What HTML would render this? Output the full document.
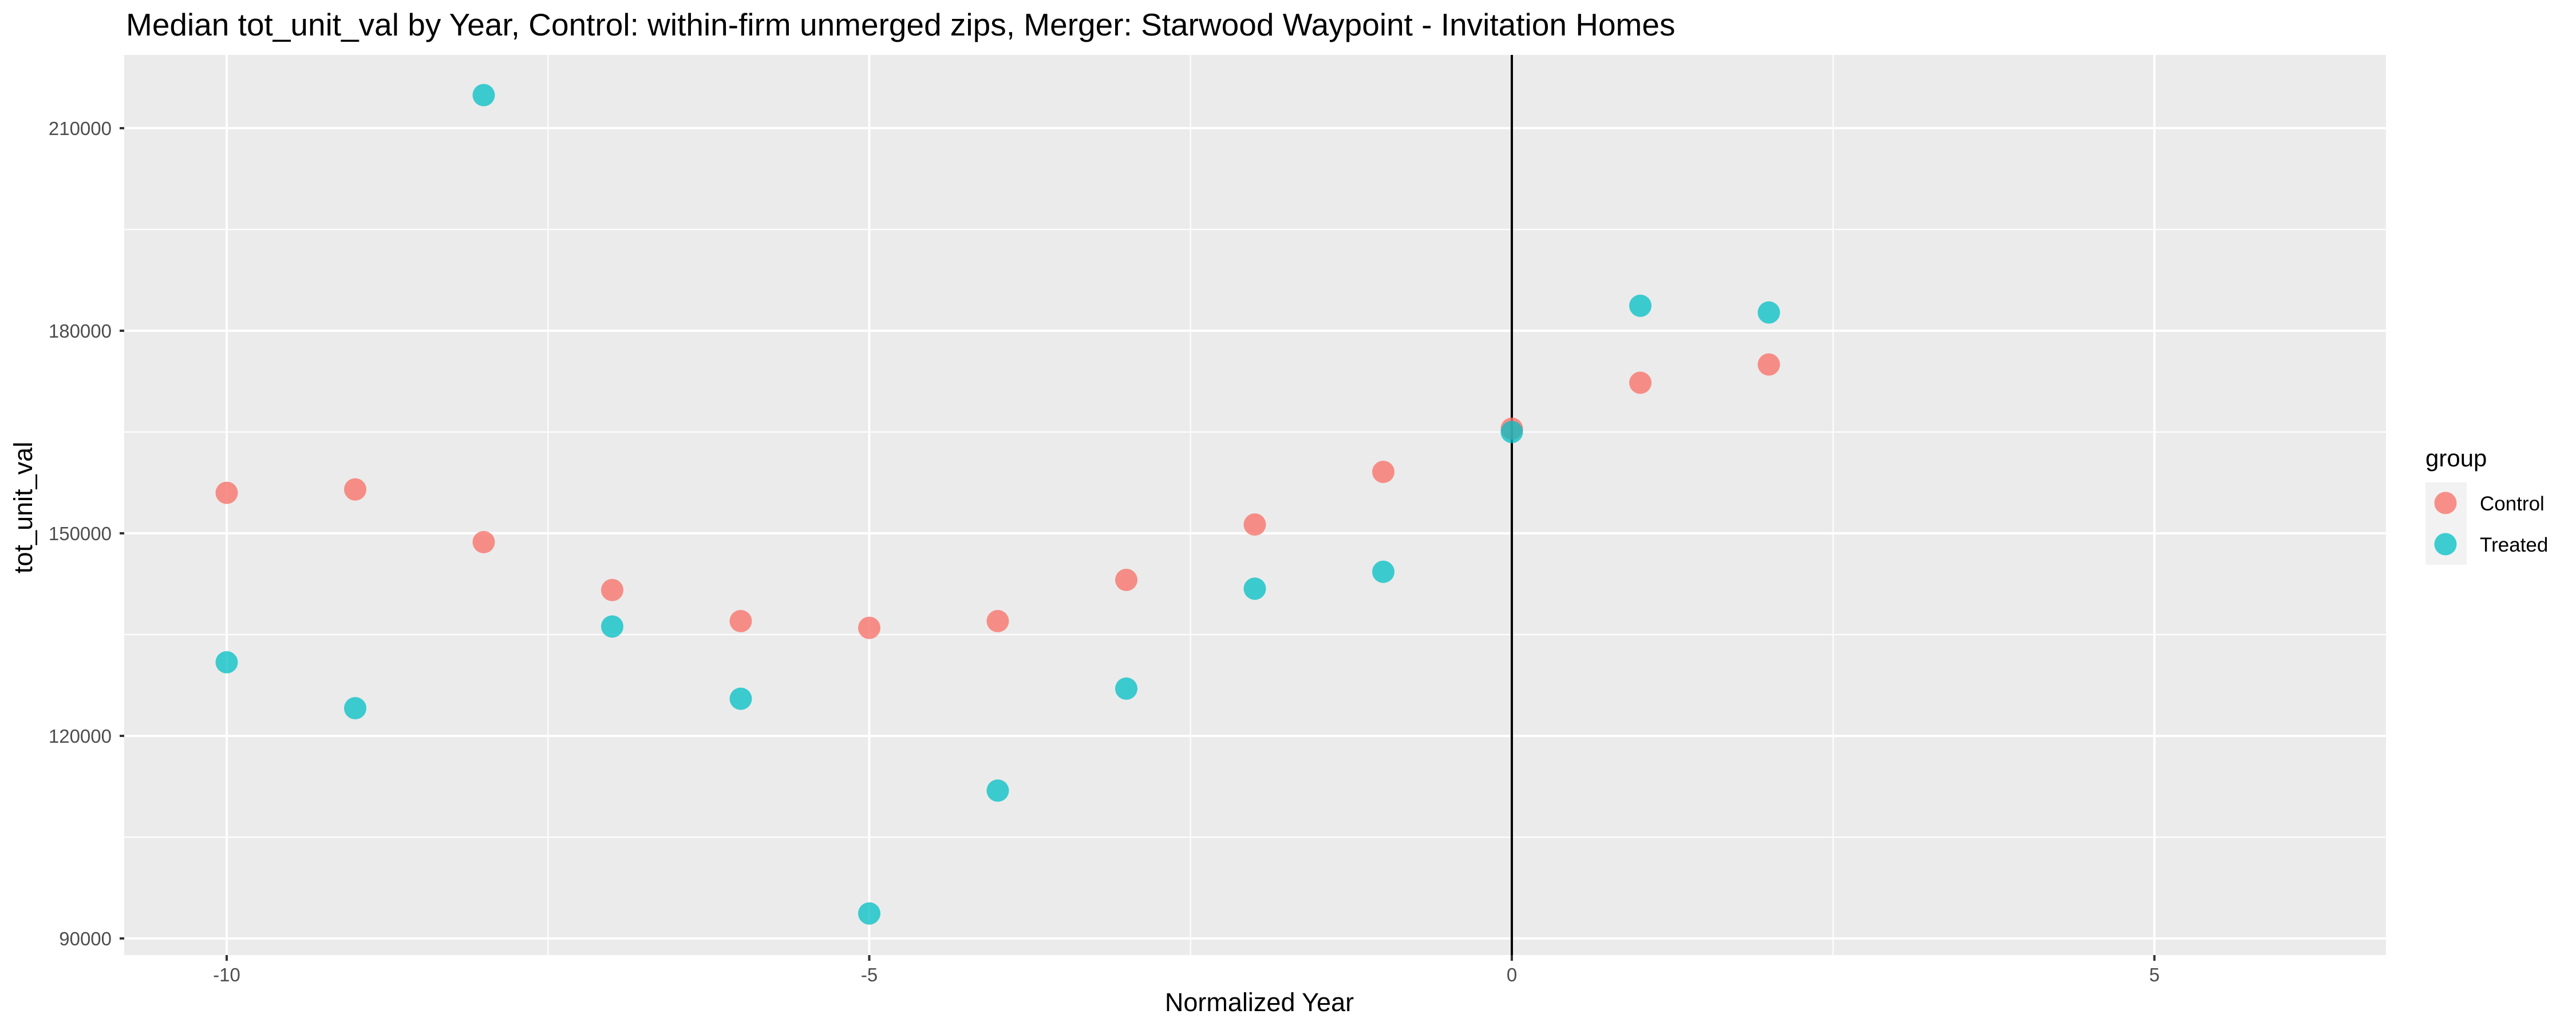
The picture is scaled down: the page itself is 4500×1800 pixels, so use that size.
<!DOCTYPE html>
<html><head><meta charset="utf-8"><style>
body{margin:0;background:#fff}
svg{display:block;font-family:"Liberation Sans",sans-serif}
</style></head><body>
<svg id="chart" width="4500" height="1800" viewBox="0 0 4500 1800">
<rect x="0" y="0" width="4500" height="1800" fill="#fff"/>
<text x="220" y="62" font-size="55" fill="#000">Median tot_unit_val by Year, Control: within-firm unmerged zips, Merger: Starwood Waypoint - Invitation Homes</text>
<rect x="217" y="96" width="3951" height="1573" fill="#ebebeb"/>
<g id="grid"></g>
<g id="axes"></g>
<g id="points"></g>
<text x="2200" y="1767" font-size="45" text-anchor="middle" fill="#000">Normalized Year</text>
<text transform="translate(56,887) rotate(-90)" font-size="45" text-anchor="middle" fill="#000">tot_unit_val</text>
<g>
<text x="4237" y="815" font-size="42" fill="#000">group</text>
<rect x="4237" y="843" width="72" height="144" fill="#f2f2f2"/>
<circle cx="4272" cy="879" r="19.5" fill="#F8766D" fill-opacity="0.8"/>
<circle cx="4272" cy="951" r="19.5" fill="#00BFC4" fill-opacity="0.75"/>
<text x="4332" y="892" font-size="35" fill="#000">Control</text>
<text x="4332" y="964" font-size="35" fill="#000">Treated</text>
</g>
</svg>
<script>
const years = [-10,-9,-8,-7,-6,-5,-4,-3,-2,-1,0,1,2];
const controlValues = [156000,156500,148700,141600,137000,136000,137000,143100,151300,159100,165500,172300,175000];
const treatedValues = [130900,124100,214900,136200,125500,93700,111900,127000,141800,144300,165000,183700,182700];
const xTicks = [-10,-5,0,5];
const xMinor = [-7.5,-2.5,2.5];
const yTicks = [90000,120000,150000,180000,210000];
const yMinor = [105000,135000,165000,195000];
const vlineYear = [0];

const NS='http://www.w3.org/2000/svg';
const PL=217,PR=4168,PT=96,PB=1669;
function xs(v){return 2641+224.5*v;}
function ys(v){return 224+(210000-v)*354/30000;}
function mk(tag,attrs,parent){const e=document.createElementNS(NS,tag);for(const k in attrs)e.setAttribute(k,attrs[k]);parent.appendChild(e);return e;}
const grid=document.getElementById('grid'),axes=document.getElementById('axes'),pts=document.getElementById('points');
yMinor.forEach(v=>{const e=mk('line',{x1:PL,x2:PR,y1:ys(v),y2:ys(v),stroke:'#fff','stroke-width':2},grid);

});
xMinor.forEach(v=>{const e=mk('line',{x1:xs(v),x2:xs(v),y1:PT,y2:PB,stroke:'#fff','stroke-width':2},grid);

});
yTicks.forEach(v=>{const e=mk('line',{x1:PL,x2:PR,y1:ys(v),y2:ys(v),stroke:'#fff','stroke-width':4},grid);


const t=mk('line',{x1:PL-8,x2:PL,y1:ys(v),y2:ys(v),stroke:'#333','stroke-width':4},axes);


const l=mk('text',{x:PL-22,y:ys(v)+12,'font-size':33,fill:'#4d4d4d','text-anchor':'end'},axes);l.textContent=v;

});
xTicks.forEach(v=>{const e=mk('line',{x1:xs(v),x2:xs(v),y1:PT,y2:PB,stroke:'#fff','stroke-width':4},grid);


const t=mk('line',{x1:xs(v),x2:xs(v),y1:PB,y2:PB+10,stroke:'#333','stroke-width':4},axes);


const l=mk('text',{x:xs(v),y:1715,'font-size':33,fill:'#4d4d4d','text-anchor':'middle'},axes);l.textContent=v;

});
vlineYear.forEach(v=>{const e=mk('line',{x1:xs(v),x2:xs(v),y1:PT,y2:PB,stroke:'#000','stroke-width':4},grid);

});
years.forEach((yr,i)=>{const c=mk('circle',{cx:xs(yr),cy:ys(controlValues[i]),r:19.5,fill:'#F8766D','fill-opacity':0.8},pts);

});
years.forEach((yr,i)=>{const c=mk('circle',{cx:xs(yr),cy:ys(treatedValues[i]),r:19.5,fill:'#00BFC4','fill-opacity':0.75},pts);

});
</script>
</body></html>
